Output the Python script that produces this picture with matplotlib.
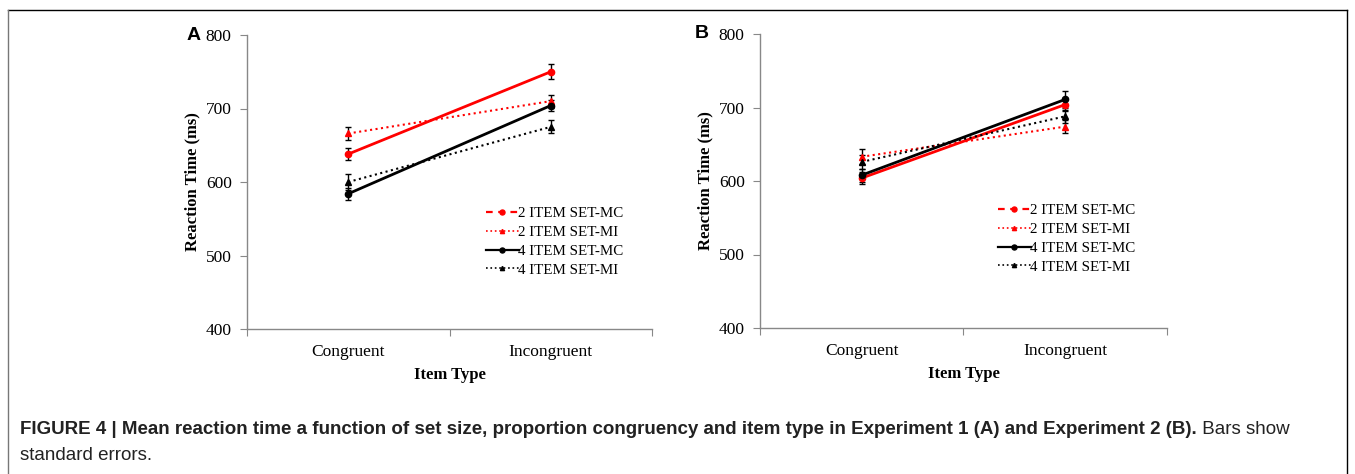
import matplotlib
matplotlib.use("Agg")
import matplotlib.pyplot as plt
from matplotlib.lines import Line2D

categories = ["Congruent", "Incongruent"]
series_names = ["2 ITEM SET-MC", "2 ITEM SET-MI", "4 ITEM SET-MC", "4 ITEM SET-MI"]

# Experiment 1 (A)
a_2mc = [638, 750]
a_2mi = [666, 710]
a_4mc = [584, 704]
a_4mi = [600, 675]
a_2mc_err = [8, 10]
a_2mi_err = [9, 9]
a_4mc_err = [8, 8]
a_4mi_err = [11, 9]

# Experiment 2 (B)
b_2mc = [604, 704]
b_2mi = [633, 674]
b_4mc = [608, 711]
b_4mi = [626, 688]
b_2mc_err = [8, 9]
b_2mi_err = [10, 9]
b_4mc_err = [9, 11]
b_4mi_err = [9, 9]

yticks = [400, 500, 600, 700, 800]

W, H = 1355, 474
fig = plt.figure(figsize=(W / 100, H / 100), dpi=100)

serif = "Liberation Serif"
sans = "Liberation Sans"

styles = [
    dict(color="#ff0000", ls="-", lw=2.0, marker="o", ms=4.5),
    dict(color="#ff0000", ls=":", lw=1.5, marker="^", ms=3.8),
    dict(color="black", ls="-", lw=2.0, marker="o", ms=4.5),
    dict(color="black", ls=":", lw=1.5, marker="^", ms=3.8),
]
legend_ls = [(0, (3, 2.5)), ":", "-", ":"]


def px(x0, y0, x1, y1):
    return [x0 / W, 1 - y1 / H, (x1 - x0) / W, (y1 - y0) / H]


def panel(rect, data, errs, letter, letter_dx, leg_xy):
    ax = fig.add_axes(rect)
    xs = [0.5, 1.5]
    for vals, err, st in zip(data, errs, styles):
        ax.errorbar(xs, vals, yerr=err, color=st["color"], ls=st["ls"], lw=st["lw"],
                    marker=st["marker"], ms=st["ms"], ecolor="black", elinewidth=1.0,
                    capsize=2.5, capthick=1.0, zorder=3)
    ax.set_xlim(0, 2)
    ax.set_ylim(400, 800)
    ax.set_yticks(yticks)
    ax.set_xticks([0, 1, 2])
    ax.set_xticklabels([])
    ax.set_xticks(xs, minor=True)
    ax.set_xticklabels(categories, minor=True, fontfamily=serif, fontsize=12.5)
    ax.tick_params(axis="x", which="minor", length=0, pad=11)
    ax.tick_params(axis="x", which="major", length=5, color="#888888", direction="out")
    ax.tick_params(axis="y", length=5, color="#888888", direction="out", labelsize=12.5, pad=6)
    for lab in ax.get_yticklabels():
        lab.set_fontfamily(serif)
    for s in ["top", "right"]:
        ax.spines[s].set_visible(False)
    for s in ["left", "bottom"]:
        ax.spines[s].set_color("#888888")
        ax.spines[s].set_linewidth(1.0)
    ax.set_ylabel("Reaction Time (ms)", fontfamily=serif, fontweight="bold", fontsize=12, labelpad=4)
    ax.set_xlabel("Item Type", fontfamily=serif, fontweight="bold", fontsize=12, labelpad=5)
    handles = [Line2D([0], [0], color=st["color"], ls=lsd, lw=st["lw"] * 0.8,
                      marker=st["marker"], ms=st["ms"] * 0.8)
               for st, lsd in zip(styles, legend_ls)]
    ax.legend(handles, series_names, loc="upper left", bbox_to_anchor=leg_xy,
              bbox_transform=fig.transFigure, frameon=False, handlelength=2.2,
              handletextpad=0.0, labelspacing=0.36, borderpad=0,
              prop=dict(family=serif, size=10.8))
    fig.text(rect[0] - letter_dx / W, rect[1] + rect[3], letter, fontfamily=sans, fontweight="bold",
             fontsize=14, va="center", ha="left")
    return ax


panel(px(247, 35, 652, 329),
      [a_2mc, a_2mi, a_4mc, a_4mi],
      [a_2mc_err, a_2mi_err, a_4mc_err, a_4mi_err], "A", 60, (478 / W, 1 - 199 / H))
panel(px(760, 34, 1167, 328),
      [b_2mc, b_2mi, b_4mc, b_4mi],
      [b_2mc_err, b_2mi_err, b_4mc_err, b_4mi_err], "B", 65, (990 / W, 1 - 196 / H))

# frame
fig.add_artist(Line2D([8 / W, 1347 / W], [1 - 10 / H, 1 - 10 / H], color="black", lw=1.0))
fig.add_artist(Line2D([8 / W, 8 / W], [0, 1 - 10 / H], color="#777777", lw=1.0))
fig.add_artist(Line2D([1347 / W, 1347 / W], [0, 1 - 10 / H], color="black", lw=1.0))

# caption
bold_txt = ("FIGURE 4 | Mean reaction time a function of set size, proportion congruency and item "
            "type in Experiment 1 (A) and Experiment 2 (B).")
t1 = fig.text(20 / W, 1 - 430 / H, bold_txt, fontfamily=sans, fontweight="bold",
              fontsize=13.5, va="center", ha="left", color="#222222")
fig.canvas.draw()
bb = t1.get_window_extent(renderer=fig.canvas.get_renderer())
fig.text(bb.x1 / W, 1 - 430 / H, " Bars show", fontfamily=sans, fontsize=13.5,
         va="center", ha="left", color="#222222")
fig.text(20 / W, 1 - 456 / H, "standard errors.", fontfamily=sans, fontsize=13.5,
         va="center", ha="left", color="#222222")

fig.savefig("out.png", dpi=100)
